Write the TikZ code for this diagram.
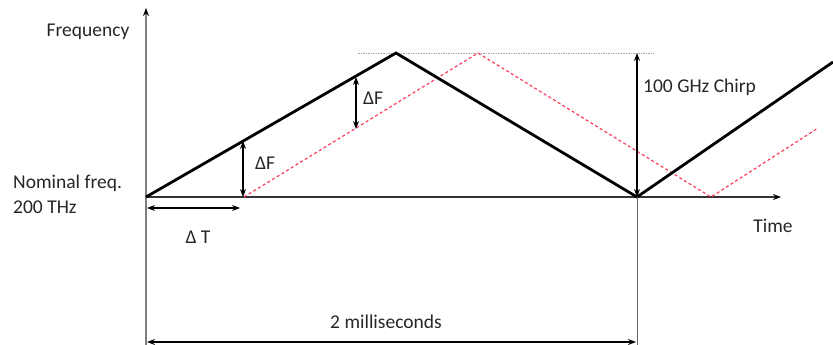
\documentclass[tikz,border=0pt]{standalone}
\usepackage{fontspec}
\setmainfont{Carlito}
\usetikzlibrary{arrows.meta}
\definecolor{axisgray}{HTML}{7F7F7F}
\definecolor{txt}{HTML}{262626}
\definecolor{chirpred}{HTML}{FF3B5C}
\tikzset{
  lbl/.style={inner sep=0pt, text=txt, font=\fontsize{19.5}{23}\selectfont},
  tip/.style={-{Stealth[length=8pt,width=6pt,black]}},
  dtip/.style={{Stealth[length=8pt,width=6pt]}-{Stealth[length=8pt,width=6pt]}},
  axis/.style={draw=axisgray, line width=2pt},
  sweep/.style={draw=black, line width=2.8pt, line join=miter},
  echo/.style={draw=chirpred, line width=1.2pt, dash pattern=on 3pt off 2.5pt},
  dim/.style={draw=black, line width=1.1pt},
  guide/.style={draw=black!60, line width=1pt}
}
\begin{document}
\begin{tikzpicture}[x=1pt,y=-1pt]
\useasboundingbox (0,0) rectangle (833,345);
% key points
\coordinate (O) at (146,197);
\coordinate (ytop) at (146,8);
\coordinate (ybot) at (146,345);
\coordinate (xend) at (781,197);
\coordinate (P1) at (396,53);
\coordinate (V1) at (637,197);
\coordinate (E1) at (833,62);
\coordinate (R0) at (244,197);
\coordinate (R1) at (478,53);
\coordinate (R2) at (711,197);
\coordinate (R3) at (818,128);
\coordinate (gl) at (358,53);
\coordinate (gr) at (654,53);
\coordinate (cT) at (637,53);
\coordinate (vb) at (637,345);
% axes
\draw[axis,tip] (ybot) -- (ytop);
\draw[axis,draw=black!80,line width=1.6pt,tip] (O) -- (xend);
% dotted top guide
\draw[draw=black!35, line width=0.9pt, dash pattern=on 1.5pt off 1pt] (gl) -- (gr);
% red delayed sweep
\draw[echo] (R0) -- (R1) -- (R2) -- (R3);
% black sweep
\draw[sweep] (O) -- (P1) -- (V1) -- (E1);
% vertical guide at 2 ms
\draw[guide] (V1) -- (vb);
% chirp arrow
\draw[dim,dtip] (cT) -- (V1);
% delta F arrows
\coordinate (f1t) at (243,141);
\coordinate (f1b) at (243,197);
\draw[dim,dtip] (f1t) -- (f1b);
\coordinate (f2t) at (356,77);
\coordinate (f2b) at (356,129);
\draw[dim,dtip] (f2t) -- (f2b);
% delta T arrow
\coordinate (tl) at (147,208);
\coordinate (tr) at (240,208);
\draw[dim,dtip] (tl) -- (tr);
% 2 ms arrow
\coordinate (ml) at (147,342);
\coordinate (mr) at (636,342);
\draw[dim,line width=1.3pt,dtip] (ml) -- (mr);
% labels
\node[lbl,anchor=center] (freq) at (88,32) {Frequency};
\node[lbl,anchor=west] (nom1) at (13,183) {Nominal freq.};
\node[lbl,anchor=west] (nom2) at (13,207) {200 THz};
\node[lbl,anchor=center] (time) at (773,226) {Time};
\node[lbl,anchor=west] (chirp) at (643,87) {100 GHz Chirp};
\node[lbl,anchor=west] (dF1) at (255,163) {ΔF};
\node[lbl,anchor=west] (dF2) at (363,98) {ΔF};
\node[lbl,anchor=center] (dT) at (198,237) {Δ T};
\node[lbl,anchor=center] (ms) at (386,322) {2 milliseconds};
\end{tikzpicture}
\end{document}
